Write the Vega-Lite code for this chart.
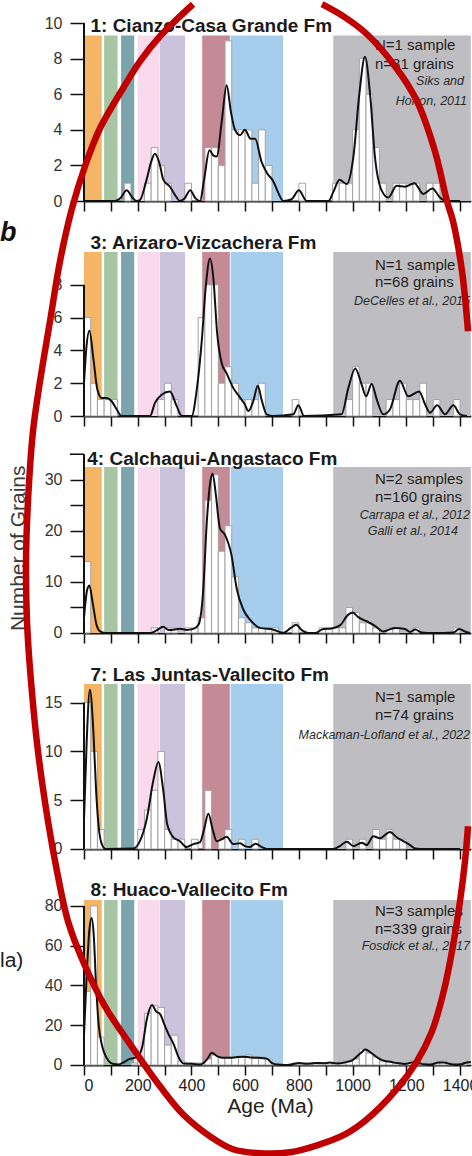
{
  "$schema": "https://vega.github.io/schema/vega-lite/v6.json",
  "usermeta": {"embedOptions": {"actions": false}},
  "autosize": {"type": "pad"},
  "padding": {"left": 0, "top": 0, "right": 0, "bottom": 0},
  "background": "white",
  "bounds": "flush",
  "spacing": 51,
  "resolve": {"scale": {"x": "independent", "y": "independent", "color": "independent"}},
  "config": {
    "font": "Liberation Sans",
    "view": {"stroke": null},
    "axis": {"grid": false, "tickCount": 30, "labelOverlap": false, "tickColor": "#111", "domainColor": "#111", "labelColor": "#333", "labelFont": "Liberation Sans", "labelFontSize": 16, "titleFont": "Liberation Sans"},
    "axisX": {"tickSize": 10, "tickWidth": 1.5, "domainWidth": 1.8},
    "axisY": {"tickSize": 14, "tickWidth": 1.5, "domain": false, "labelPadding": 8}
  },
  "datasets": {
    "bands": [
      {"band": "0-66 Ma", "start": 0, "end": 66},
      {"band": "75-125 Ma", "start": 75, "end": 125},
      {"band": "138-187 Ma", "start": 138, "end": 187},
      {"band": "200-280 Ma", "start": 200, "end": 280},
      {"band": "282-376 Ma", "start": 282, "end": 376},
      {"band": "440-543 Ma", "start": 440, "end": 543},
      {"band": "546-741 Ma", "start": 546, "end": 741},
      {"band": ">928 Ma", "start": 928, "end": 1440}
    ],
    "bars1": [
      {"start":150,"end":175,"count":1},{"start":225,"end":250,"count":1},{"start":250,"end":275,"count":3},{"start":275,"end":300,"count":2},{"start":300,"end":325,"count":1},{"start":375,"end":400,"count":1},{"start":450,"end":475,"count":3},{"start":475,"end":500,"count":3},{"start":500,"end":525,"count":2},{"start":525,"end":550,"count":9},{"start":550,"end":575,"count":4},{"start":575,"end":600,"count":4},{"start":600,"end":625,"count":4},{"start":625,"end":650,"count":1},{"start":650,"end":675,"count":4},{"start":675,"end":700,"count":2},{"start":800,"end":825,"count":1},{"start":925,"end":950,"count":1},{"start":950,"end":975,"count":1},{"start":975,"end":1000,"count":1},{"start":1000,"end":1025,"count":4},{"start":1025,"end":1050,"count":8},{"start":1050,"end":1075,"count":6},{"start":1075,"end":1100,"count":3},{"start":1100,"end":1125,"count":1},{"start":1150,"end":1175,"count":1},{"start":1175,"end":1200,"count":1},{"start":1200,"end":1225,"count":1},{"start":1225,"end":1250,"count":1},{"start":1275,"end":1300,"count":1},{"start":1300,"end":1325,"count":1}
    ],
    "kde1": [
      {"age":0,"density":0},{"age":115,"density":0},{"age":135,"density":0.15},{"age":159,"density":0.6},{"age":180,"density":0.2},{"age":196,"density":0},{"age":208,"density":0.05},{"age":233,"density":1.2},{"age":250,"density":2.2},{"age":264,"density":2.65},{"age":283,"density":2.0},{"age":295,"density":1.2},{"age":320,"density":0.8},{"age":345,"density":0.2},{"age":357,"density":0},{"age":375,"density":0.15},{"age":395,"density":0.6},{"age":415,"density":0.15},{"age":432,"density":0},{"age":447,"density":1.2},{"age":467,"density":2.85},{"age":482,"density":2.55},{"age":494,"density":2.5},{"age":513,"density":4.5},{"age":531,"density":6.5},{"age":547,"density":5.0},{"age":562,"density":4.0},{"age":581,"density":3.7},{"age":599,"density":4.0},{"age":620,"density":3.5},{"age":637,"density":3.5},{"age":661,"density":2.2},{"age":680,"density":1.6},{"age":705,"density":1.1},{"age":725,"density":0.4},{"age":742,"density":0},{"age":773,"density":0.1},{"age":800,"density":0.6},{"age":829,"density":0},{"age":910,"density":0},{"age":928,"density":0.5},{"age":951,"density":1.2},{"age":978,"density":0.95},{"age":1003,"density":2.5},{"age":1025,"density":6},{"age":1046,"density":8.1},{"age":1065,"density":6},{"age":1083,"density":2.5},{"age":1108,"density":0.6},{"age":1133,"density":0.2},{"age":1164,"density":0.85},{"age":1195,"density":0.8},{"age":1230,"density":1.0},{"age":1263,"density":0.4},{"age":1297,"density":0.7},{"age":1325,"density":0.2},{"age":1350,"density":0},{"age":1400,"density":0}
    ],
    "bars3": [
      {"start":0,"end":25,"count":6},{"start":25,"end":50,"count":2},{"start":50,"end":75,"count":1},{"start":75,"end":100,"count":1},{"start":100,"end":125,"count":1},{"start":275,"end":300,"count":1},{"start":300,"end":325,"count":2},{"start":325,"end":350,"count":1},{"start":425,"end":450,"count":6},{"start":450,"end":475,"count":8},{"start":475,"end":500,"count":8},{"start":500,"end":525,"count":2},{"start":525,"end":550,"count":3},{"start":550,"end":575,"count":2},{"start":575,"end":600,"count":1},{"start":600,"end":625,"count":1},{"start":625,"end":650,"count":1},{"start":650,"end":675,"count":2},{"start":775,"end":800,"count":1},{"start":975,"end":1000,"count":1},{"start":1000,"end":1025,"count":3},{"start":1025,"end":1050,"count":2},{"start":1050,"end":1075,"count":2},{"start":1125,"end":1150,"count":1},{"start":1150,"end":1175,"count":1},{"start":1175,"end":1200,"count":2},{"start":1200,"end":1225,"count":1},{"start":1225,"end":1250,"count":1},{"start":1250,"end":1275,"count":2},{"start":1300,"end":1325,"count":1},{"start":1375,"end":1400,"count":1}
    ],
    "kde3": [
      {"age":0,"density":2.0},{"age":8,"density":4.0},{"age":20,"density":5.2},{"age":35,"density":3.5},{"age":50,"density":1.6},{"age":66,"density":1.1},{"age":84,"density":1.1},{"age":103,"density":0.9},{"age":122,"density":0.4},{"age":140,"density":0},{"age":246,"density":0},{"age":264,"density":0.8},{"age":289,"density":1.3},{"age":320,"density":1.5},{"age":345,"density":0.6},{"age":364,"density":0},{"age":401,"density":0},{"age":419,"density":1.5},{"age":438,"density":4.5},{"age":454,"density":8},{"age":469,"density":9.6},{"age":481,"density":8.5},{"age":496,"density":5},{"age":513,"density":3.2},{"age":531,"density":2.6},{"age":556,"density":1.7},{"age":578,"density":1.2},{"age":599,"density":0.7},{"age":612,"density":0.3},{"age":630,"density":0.9},{"age":647,"density":1.85},{"age":661,"density":1.0},{"age":680,"density":0.1},{"age":705,"density":0},{"age":779,"density":0.1},{"age":798,"density":0.65},{"age":819,"density":0},{"age":959,"density":0.1},{"age":984,"density":1.7},{"age":1010,"density":2.9},{"age":1034,"density":1.9},{"age":1050,"density":1.2},{"age":1071,"density":1.95},{"age":1090,"density":1.0},{"age":1114,"density":0.1},{"age":1139,"density":0.4},{"age":1176,"density":2.15},{"age":1207,"density":1.2},{"age":1248,"density":1.5},{"age":1270,"density":0.7},{"age":1288,"density":0.2},{"age":1315,"density":0.65},{"age":1344,"density":0.1},{"age":1375,"density":0.65},{"age":1400,"density":0.1},{"age":1425,"density":0}
    ],
    "bars4": [
      {"start":0,"end":25,"count":14},{"start":250,"end":275,"count":1},{"start":300,"end":325,"count":1},{"start":325,"end":350,"count":1},{"start":375,"end":400,"count":1},{"start":400,"end":425,"count":1},{"start":425,"end":450,"count":3},{"start":450,"end":475,"count":26},{"start":475,"end":500,"count":31},{"start":500,"end":525,"count":16},{"start":525,"end":550,"count":21},{"start":550,"end":575,"count":11},{"start":575,"end":600,"count":3},{"start":600,"end":625,"count":2},{"start":625,"end":650,"count":1},{"start":650,"end":675,"count":1},{"start":675,"end":700,"count":1},{"start":700,"end":725,"count":1},{"start":775,"end":800,"count":2},{"start":875,"end":900,"count":1},{"start":900,"end":925,"count":1},{"start":925,"end":950,"count":1},{"start":950,"end":975,"count":1},{"start":975,"end":1000,"count":5},{"start":1000,"end":1025,"count":4},{"start":1025,"end":1050,"count":2},{"start":1050,"end":1075,"count":2},{"start":1075,"end":1100,"count":1},{"start":1125,"end":1150,"count":1},{"start":1150,"end":1175,"count":1},{"start":1225,"end":1250,"count":1},{"start":1375,"end":1400,"count":1}
    ],
    "kde4": [
      {"age":0,"density":3},{"age":12,"density":8.5},{"age":20,"density":9.3},{"age":32,"density":6},{"age":47,"density":1.5},{"age":60,"density":0.3},{"age":78,"density":0},{"age":250,"density":0},{"age":270,"density":0.5},{"age":295,"density":1.2},{"age":315,"density":0.6},{"age":333,"density":0.65},{"age":357,"density":0.85},{"age":382,"density":0.6},{"age":407,"density":0.8},{"age":426,"density":1.6},{"age":444,"density":8.5},{"age":457,"density":21.6},{"age":470,"density":29.5},{"age":479,"density":31.2},{"age":491,"density":27},{"age":506,"density":20.5},{"age":525,"density":19.2},{"age":550,"density":15},{"age":568,"density":8.8},{"age":593,"density":4.6},{"age":618,"density":2.6},{"age":655,"density":1.0},{"age":705,"density":0.65},{"age":742,"density":0.05},{"age":770,"density":1.0},{"age":790,"density":1.6},{"age":812,"density":0.5},{"age":835,"density":0},{"age":860,"density":0},{"age":891,"density":0.8},{"age":922,"density":0.9},{"age":953,"density":1.5},{"age":984,"density":3.6},{"age":1000,"density":4.0},{"age":1021,"density":3.1},{"age":1052,"density":2.3},{"age":1083,"density":1.4},{"age":1114,"density":0.3},{"age":1157,"density":1.0},{"age":1195,"density":0.8},{"age":1214,"density":0.2},{"age":1233,"density":0.7},{"age":1257,"density":0.1},{"age":1300,"density":0},{"age":1375,"density":0.1},{"age":1397,"density":0.8},{"age":1418,"density":0.3},{"age":1437,"density":0}
    ],
    "bars7": [
      {"start":0,"end":25,"count":15},{"start":25,"end":50,"count":10},{"start":50,"end":75,"count":2},{"start":200,"end":225,"count":2},{"start":225,"end":250,"count":4},{"start":250,"end":275,"count":6},{"start":275,"end":300,"count":10},{"start":300,"end":325,"count":2},{"start":325,"end":350,"count":1},{"start":350,"end":375,"count":1},{"start":400,"end":425,"count":1},{"start":450,"end":475,"count":6},{"start":500,"end":525,"count":1},{"start":525,"end":550,"count":2},{"start":575,"end":600,"count":1},{"start":625,"end":650,"count":1},{"start":975,"end":1000,"count":1},{"start":1025,"end":1050,"count":1},{"start":1075,"end":1100,"count":2},{"start":1100,"end":1125,"count":1},{"start":1125,"end":1150,"count":2},{"start":1150,"end":1175,"count":1},{"start":1175,"end":1200,"count":1}
    ],
    "kde7": [
      {"age":0,"density":3},{"age":10,"density":11},{"age":22,"density":16.3},{"age":35,"density":12},{"age":45,"density":6},{"age":55,"density":2.2},{"age":65,"density":0.6},{"age":80,"density":0},{"age":184,"density":0.05},{"age":208,"density":0.8},{"age":233,"density":3},{"age":258,"density":7},{"age":277,"density":8.9},{"age":295,"density":6},{"age":310,"density":2.5},{"age":333,"density":1.2},{"age":357,"density":0.8},{"age":382,"density":0.2},{"age":407,"density":0.5},{"age":432,"density":0.7},{"age":447,"density":2.0},{"age":463,"density":3.6},{"age":479,"density":2.0},{"age":494,"density":0.8},{"age":513,"density":1.0},{"age":531,"density":1.25},{"age":556,"density":0.5},{"age":581,"density":0.6},{"age":599,"density":0.3},{"age":618,"density":0.2},{"age":639,"density":0.55},{"age":662,"density":0.2},{"age":680,"density":0},{"age":928,"density":0},{"age":953,"density":0.3},{"age":978,"density":0.75},{"age":1003,"density":0.3},{"age":1034,"density":0.65},{"age":1052,"density":0.4},{"age":1077,"density":1.3},{"age":1102,"density":1.1},{"age":1139,"density":1.75},{"age":1164,"density":1.2},{"age":1189,"density":0.8},{"age":1214,"density":0.4},{"age":1233,"density":0.05},{"age":1251,"density":0},{"age":1400,"density":0}
    ],
    "bars8": [
      {"start":0,"end":25,"count":37},{"start":25,"end":50,"count":80},{"start":50,"end":75,"count":14},{"start":175,"end":200,"count":1},{"start":200,"end":225,"count":2},{"start":225,"end":250,"count":26},{"start":250,"end":275,"count":30},{"start":275,"end":300,"count":29},{"start":300,"end":325,"count":10},{"start":325,"end":350,"count":15},{"start":350,"end":375,"count":2},{"start":375,"end":400,"count":1},{"start":400,"end":425,"count":1},{"start":425,"end":450,"count":1},{"start":450,"end":475,"count":3},{"start":475,"end":500,"count":5},{"start":500,"end":525,"count":4},{"start":525,"end":550,"count":4},{"start":550,"end":575,"count":4},{"start":575,"end":600,"count":4},{"start":600,"end":625,"count":5},{"start":625,"end":650,"count":4},{"start":650,"end":675,"count":4},{"start":675,"end":700,"count":3},{"start":700,"end":725,"count":1},{"start":775,"end":800,"count":1},{"start":800,"end":825,"count":1},{"start":825,"end":850,"count":1},{"start":850,"end":875,"count":1},{"start":875,"end":900,"count":1},{"start":900,"end":925,"count":1},{"start":925,"end":950,"count":1},{"start":950,"end":975,"count":2},{"start":975,"end":1000,"count":2},{"start":1000,"end":1025,"count":3},{"start":1025,"end":1050,"count":8},{"start":1050,"end":1075,"count":6},{"start":1075,"end":1100,"count":4},{"start":1100,"end":1125,"count":2},{"start":1125,"end":1150,"count":2},{"start":1150,"end":1175,"count":1},{"start":1175,"end":1200,"count":1},{"start":1200,"end":1225,"count":2},{"start":1225,"end":1250,"count":1},{"start":1250,"end":1275,"count":1},{"start":1300,"end":1325,"count":1},{"start":1325,"end":1350,"count":2},{"start":1350,"end":1375,"count":1},{"start":1400,"end":1425,"count":1}
    ],
    "kde8": [
      {"age":0,"density":15},{"age":10,"density":45},{"age":20,"density":68},{"age":28,"density":74},{"age":36,"density":66},{"age":45,"density":40},{"age":55,"density":20},{"age":65,"density":11},{"age":73,"density":7},{"age":92,"density":2},{"age":110,"density":0.5},{"age":129,"density":0.3},{"age":150,"density":1.5},{"age":166,"density":2.8},{"age":191,"density":3.7},{"age":205,"density":5},{"age":216,"density":8.7},{"age":235,"density":23.8},{"age":253,"density":30.2},{"age":268,"density":27},{"age":284,"density":25.5},{"age":300,"density":20},{"age":315,"density":15.4},{"age":334,"density":10.4},{"age":353,"density":3.7},{"age":371,"density":0.7},{"age":402,"density":0.6},{"age":433,"density":0.2},{"age":458,"density":2.8},{"age":476,"density":6.2},{"age":495,"density":4.5},{"age":514,"density":3.7},{"age":539,"density":3.7},{"age":560,"density":3.8},{"age":590,"density":4.2},{"age":620,"density":3.8},{"age":650,"density":3.6},{"age":680,"density":3.2},{"age":700,"density":1.0},{"age":720,"density":0.2},{"age":750,"density":0},{"age":775,"density":0.4},{"age":800,"density":1.0},{"age":830,"density":0.6},{"age":860,"density":1.0},{"age":890,"density":0.9},{"age":915,"density":1.2},{"age":940,"density":0.8},{"age":970,"density":1.3},{"age":1000,"density":2.5},{"age":1030,"density":6.0},{"age":1048,"density":7.8},{"age":1070,"density":6.0},{"age":1095,"density":3.5},{"age":1120,"density":2.0},{"age":1140,"density":1.6},{"age":1165,"density":1.0},{"age":1195,"density":0.5},{"age":1220,"density":1.2},{"age":1245,"density":1.0},{"age":1265,"density":0.4},{"age":1290,"density":0.3},{"age":1320,"density":1.2},{"age":1340,"density":1.3},{"age":1360,"density":0.6},{"age":1380,"density":0.2},{"age":1405,"density":0.4},{"age":1425,"density":1.3},{"age":1440,"density":1.5}
    ],
    "ellipse": [
      {"seg":"a","k":1,"age":405.8,"value":533.6},{"seg":"a","k":2,"age":282.9,"value":517.5},{"seg":"a","k":3,"age":208.5,"value":504.9},{"seg":"a","k":4,"age":134.0,"value":488.8},{"seg":"a","k":5,"age":59.6,"value":471.2},{"seg":"a","k":6,"age":3.7,"value":452.1},{"seg":"a","k":7,"age":-44.7,"value":430.9},{"seg":"a","k":8,"age":-89.4,"value":404.3},{"seg":"a","k":9,"age":-126.6,"value":374.1},{"seg":"a","k":10,"age":-163.8,"value":343.9},{"seg":"a","k":11,"age":-189.9,"value":318.8},{"seg":"a","k":12,"age":-208.5,"value":283.6},{"seg":"a","k":13,"age":-215.9,"value":253.4},{"seg":"a","k":14,"age":-212.2,"value":223.2},{"seg":"a","k":15,"age":-197.3,"value":193.0},{"seg":"a","k":16,"age":-171.3,"value":157.8},{"seg":"a","k":17,"age":-134.0,"value":122.6},{"seg":"a","k":18,"age":-100.5,"value":97.4},{"seg":"a","k":19,"age":-59.6,"value":72.3},{"seg":"a","k":20,"age":-3.7,"value":52.2},{"seg":"a","k":21,"age":78.2,"value":29.5},{"seg":"a","k":22,"age":182.4,"value":8.4},{"seg":"a","k":23,"age":282.9,"value":-10.7},{"seg":"a","k":24,"age":368.6,"value":-24.8},{"seg":"a","k":25,"age":469.1,"value":-35.9},{"seg":"a","k":26,"age":554.7,"value":-42.4},{"seg":"a","k":27,"age":655.2,"value":-44.4},{"seg":"a","k":28,"age":766.9,"value":-43.9},{"seg":"a","k":29,"age":867.4,"value":-40.4},{"seg":"a","k":30,"age":971.7,"value":-34.9},{"seg":"a","k":31,"age":1053.6,"value":-27.3},{"seg":"a","k":32,"age":1157.8,"value":-13.2},{"seg":"a","k":33,"age":1239.7,"value":1.9},{"seg":"a","k":34,"age":1295.6,"value":17.0},{"seg":"a","k":35,"age":1336.5,"value":35.6},{"seg":"a","k":36,"age":1370.0,"value":57.2},{"seg":"a","k":37,"age":1399.8,"value":82.3},{"seg":"a","k":38,"age":1418.4,"value":102.5},{"seg":"a","k":39,"age":1429.6,"value":120.1},
      {"seg":"b","k":1,"age":1429.6,"value":369.1},{"seg":"b","k":2,"age":1407.3,"value":399.3},{"seg":"b","k":3,"age":1373.8,"value":424.4},{"seg":"b","k":4,"age":1351.4,"value":434.5},{"seg":"b","k":5,"age":1306.7,"value":459.6},{"seg":"b","k":6,"age":1239.7,"value":484.8},{"seg":"b","k":7,"age":1157.8,"value":502.4},{"seg":"b","k":8,"age":1053.6,"value":518.5},{"seg":"b","k":9,"age":971.7,"value":527.0},{"seg":"b","k":10,"age":886.1,"value":533.6}
    ]
  },
  "vconcat": [
    {
      "width": 386.8, "height": 178,
      "layer": [
        {"data": {"name": "bands"}, "mark": {"type": "rect"},
         "encoding": {
           "x": {"field": "start", "type": "quantitative", "scale": {"domain": [0, 1440], "nice": false, "zero": false}, "axis": {"values": [0,100,200,300,400,500,600,700,800,900,1000,1100,1200,1300,1400], "tickCount": 30, "labels": false, "title": null}},
           "x2": {"field": "end"},
           "y": {"datum": 9.3, "type": "quantitative", "scale": {"domain": [0, 10], "nice": false, "zero": false}, "axis": {"values": [0,2,4,6,8,10], "tickCount": 30, "format": "d", "title": null}},
           "y2": {"datum": 0},
           "color": {"field": "band", "type": "nominal", "scale": {"domain": ["0-66 Ma","75-125 Ma","138-187 Ma","200-280 Ma","282-376 Ma","440-543 Ma","546-741 Ma",">928 Ma"], "range": ["#F4B566","#A8C5A3","#7BA4AC","#F9DAEC","#CBC3DD","#C48A96","#A6CEEC","#BEBEC2"]}, "legend": null}
         }},
        {"data": {"name": "bars1"}, "mark": {"type": "rect", "fill": "white", "stroke": "#a3a3a3", "strokeWidth": 1},
         "encoding": {"x": {"field": "start", "type": "quantitative"}, "x2": {"field": "end"}, "y": {"field": "count", "type": "quantitative"}, "y2": {"datum": 0}}},
        {"data": {"name": "kde1"}, "mark": {"type": "line", "color": "#111", "strokeWidth": 2, "interpolate": "monotone"},
         "encoding": {"x": {"field": "age", "type": "quantitative"}, "y": {"field": "density", "type": "quantitative"}}},
        {"data": {"values": [{}]}, "mark": {"type": "rule", "color": "#111", "strokeWidth": 2},
         "encoding": {"x": {"datum": 0}, "y": {"datum": 0}, "y2": {"datum": 10}}},
        {"data": {"values": [{}]}, "mark": {"type": "text", "text": "1: Cianzo-Casa Grande Fm", "align": "left", "baseline": "middle", "fontSize": 19, "fontWeight": "bold", "color": "#1a1a1a"},
         "encoding": {"x": {"datum": 24.2}, "y": {"datum": 9.81}}},
        {"data": {"values": [{}]}, "mark": {"type": "text", "text": "N=1 sample", "align": "left", "baseline": "middle", "fontSize": 15, "color": "#1f1f1f"},
         "encoding": {"x": {"datum": 1083.4}, "y": {"datum": 8.79}}},
        {"data": {"values": [{}]}, "mark": {"type": "text", "text": "n=81 grains", "align": "left", "baseline": "middle", "fontSize": 15, "color": "#1f1f1f"},
         "encoding": {"x": {"datum": 1083.4}, "y": {"datum": 7.72}}},
        {"data": {"values": [{}]}, "mark": {"type": "text", "text": "Siks and", "align": "right", "baseline": "middle", "fontSize": 12.5, "fontStyle": "italic", "color": "#2a2a2a"},
         "encoding": {"x": {"datum": 1414.7}, "y": {"datum": 6.72}}},
        {"data": {"values": [{}]}, "mark": {"type": "text", "text": "Horton, 2011", "align": "right", "baseline": "middle", "fontSize": 12.5, "fontStyle": "italic", "color": "#2a2a2a"},
         "encoding": {"x": {"datum": 1425.9}, "y": {"datum": 5.6}}}
      ]
    },
    {
      "width": 386.8, "height": 164,
      "layer": [
        {"data": {"name": "bands"}, "mark": {"type": "rect"},
         "encoding": {
           "x": {"field": "start", "type": "quantitative", "scale": {"domain": [0, 1440], "nice": false, "zero": false}, "axis": {"values": [0,100,200,300,400,500,600,700,800,900,1000,1100,1200,1300,1400], "tickCount": 30, "labels": false, "title": null}},
           "x2": {"field": "end"},
           "y": {"datum": 10, "type": "quantitative", "scale": {"domain": [0, 10], "nice": false, "zero": false}, "axis": {"values": [0,2,4,6,8], "tickCount": 30, "format": "d", "title": null}},
           "y2": {"datum": 0},
           "color": {"field": "band", "type": "nominal", "scale": {"domain": ["0-66 Ma","75-125 Ma","138-187 Ma","200-280 Ma","282-376 Ma","440-543 Ma","546-741 Ma",">928 Ma"], "range": ["#F4B566","#A8C5A3","#7BA4AC","#F9DAEC","#CBC3DD","#C48A96","#A6CEEC","#BEBEC2"]}, "legend": null}
         }},
        {"data": {"name": "bars3"}, "mark": {"type": "rect", "fill": "white", "stroke": "#a3a3a3", "strokeWidth": 1},
         "encoding": {"x": {"field": "start", "type": "quantitative"}, "x2": {"field": "end"}, "y": {"field": "count", "type": "quantitative"}, "y2": {"datum": 0}}},
        {"data": {"name": "kde3"}, "mark": {"type": "line", "color": "#111", "strokeWidth": 2, "interpolate": "monotone"},
         "encoding": {"x": {"field": "age", "type": "quantitative"}, "y": {"field": "density", "type": "quantitative"}}},
        {"data": {"values": [{}]}, "mark": {"type": "rule", "color": "#111", "strokeWidth": 2},
         "encoding": {"x": {"datum": 0}, "y": {"datum": 0}, "y2": {"datum": 8}}},
        {"data": {"values": [{}]}, "mark": {"type": "text", "text": "3: Arizaro-Vizcachera Fm", "align": "left", "baseline": "middle", "fontSize": 19, "fontWeight": "bold", "color": "#1a1a1a"},
         "encoding": {"x": {"datum": 24.2}, "y": {"datum": 10.55}}},
        {"data": {"values": [{}]}, "mark": {"type": "text", "text": "b", "align": "left", "baseline": "alphabetic", "fontSize": 27, "fontWeight": "bold", "fontStyle": "italic", "color": "#111"},
         "encoding": {"x": {"datum": -312.7}, "y": {"datum": 10.65}}},
        {"data": {"values": [{}]}, "mark": {"type": "text", "text": "N=1 sample", "align": "left", "baseline": "middle", "fontSize": 15, "color": "#1f1f1f"},
         "encoding": {"x": {"datum": 1083.4}, "y": {"datum": 9.23}}},
        {"data": {"values": [{}]}, "mark": {"type": "text", "text": "n=68 grains", "align": "left", "baseline": "middle", "fontSize": 15, "color": "#1f1f1f"},
         "encoding": {"x": {"datum": 1083.4}, "y": {"datum": 8.17}}},
        {"data": {"values": [{}]}, "mark": {"type": "text", "text": "DeCelles et al., 2015", "align": "right", "baseline": "middle", "fontSize": 12.5, "fontStyle": "italic", "color": "#2a2a2a"},
         "encoding": {"x": {"datum": 1437}, "y": {"datum": 7.0}}}
      ]
    },
    {
      "width": 386.8, "height": 166,
      "layer": [
        {"data": {"name": "bands"}, "mark": {"type": "rect"},
         "encoding": {
           "x": {"field": "start", "type": "quantitative", "scale": {"domain": [0, 1440], "nice": false, "zero": false}, "axis": {"values": [0,100,200,300,400,500,600,700,800,900,1000,1100,1200,1300,1400], "tickCount": 30, "labels": false, "title": null}},
           "x2": {"field": "end"},
           "y": {"datum": 32.5, "type": "quantitative", "scale": {"domain": [0, 32.5], "nice": false, "zero": false}, "axis": {"values": [0,5,10,15,20,25,30], "tickCount": 30, "format": "d", "labelExpr": "datum.value % 10 === 0 ? datum.label : ''", "title": null}},
           "y2": {"datum": 0},
           "color": {"field": "band", "type": "nominal", "scale": {"domain": ["0-66 Ma","75-125 Ma","138-187 Ma","200-280 Ma","282-376 Ma","440-543 Ma","546-741 Ma",">928 Ma"], "range": ["#F4B566","#A8C5A3","#7BA4AC","#F9DAEC","#CBC3DD","#C48A96","#A6CEEC","#BEBEC2"]}, "legend": null}
         }},
        {"data": {"name": "bars4"}, "mark": {"type": "rect", "fill": "white", "stroke": "#a3a3a3", "strokeWidth": 1},
         "encoding": {"x": {"field": "start", "type": "quantitative"}, "x2": {"field": "end"}, "y": {"field": "count", "type": "quantitative"}, "y2": {"datum": 0}}},
        {"data": {"name": "kde4"}, "mark": {"type": "line", "color": "#111", "strokeWidth": 2, "interpolate": "monotone"},
         "encoding": {"x": {"field": "age", "type": "quantitative"}, "y": {"field": "density", "type": "quantitative"}}},
        {"data": {"values": [{}]}, "mark": {"type": "rule", "color": "#111", "strokeWidth": 2},
         "encoding": {"x": {"datum": 0}, "y": {"datum": 0}, "y2": {"datum": 35}}},
        {"data": {"values": [{}]}, "mark": {"type": "rule", "color": "#111", "strokeWidth": 1.5},
         "encoding": {"x": {"datum": -52.1}, "x2": {"datum": 0}, "y": {"datum": 35}}},
        {"data": {"values": [{}]}, "mark": {"type": "text", "text": "4: Calchaqui-Angastaco Fm", "align": "left", "baseline": "middle", "fontSize": 19, "fontWeight": "bold", "color": "#1a1a1a"},
         "encoding": {"x": {"datum": 12.3}, "y": {"datum": 34.0}}},
        {"data": {"values": [{}]}, "mark": {"type": "text", "text": "Number of Grains", "align": "center", "baseline": "middle", "angle": 270, "fontSize": 21, "color": "#3a3a3a"},
         "encoding": {"x": {"datum": -243.8}, "y": {"datum": 16.58}}},
        {"data": {"values": [{}]}, "mark": {"type": "text", "text": "N=2 samples", "align": "left", "baseline": "middle", "fontSize": 15, "color": "#1f1f1f"},
         "encoding": {"x": {"datum": 1083.4}, "y": {"datum": 30.23}}},
        {"data": {"values": [{}]}, "mark": {"type": "text", "text": "n=160 grains", "align": "left", "baseline": "middle", "fontSize": 15, "color": "#1f1f1f"},
         "encoding": {"x": {"datum": 1083.4}, "y": {"datum": 26.63}}},
        {"data": {"values": [{}]}, "mark": {"type": "text", "text": "Carrapa et al., 2012", "align": "right", "baseline": "middle", "fontSize": 12.5, "fontStyle": "italic", "color": "#2a2a2a"},
         "encoding": {"x": {"datum": 1437}, "y": {"datum": 23.18}}},
        {"data": {"values": [{}]}, "mark": {"type": "text", "text": "Galli et al., 2014", "align": "right", "baseline": "middle", "fontSize": 12.5, "fontStyle": "italic", "color": "#2a2a2a"},
         "encoding": {"x": {"datum": 1392}, "y": {"datum": 19.91}}}
      ]
    },
    {
      "width": 386.8, "height": 165,
      "layer": [
        {"data": {"name": "bands"}, "mark": {"type": "rect"},
         "encoding": {
           "x": {"field": "start", "type": "quantitative", "scale": {"domain": [0, 1440], "nice": false, "zero": false}, "axis": {"values": [0,100,200,300,400,500,600,700,800,900,1000,1100,1200,1300,1400], "tickCount": 30, "labels": false, "title": null}},
           "x2": {"field": "end"},
           "y": {"datum": 16.9, "type": "quantitative", "scale": {"domain": [0, 16.9], "nice": false, "zero": false}, "axis": {"values": [0,5,10,15], "tickCount": 30, "format": "d", "title": null}},
           "y2": {"datum": 0},
           "color": {"field": "band", "type": "nominal", "scale": {"domain": ["0-66 Ma","75-125 Ma","138-187 Ma","200-280 Ma","282-376 Ma","440-543 Ma","546-741 Ma",">928 Ma"], "range": ["#F4B566","#A8C5A3","#7BA4AC","#F9DAEC","#CBC3DD","#C48A96","#A6CEEC","#BEBEC2"]}, "legend": null}
         }},
        {"data": {"name": "bars7"}, "mark": {"type": "rect", "fill": "white", "stroke": "#a3a3a3", "strokeWidth": 1},
         "encoding": {"x": {"field": "start", "type": "quantitative"}, "x2": {"field": "end"}, "y": {"field": "count", "type": "quantitative"}, "y2": {"datum": 0}}},
        {"data": {"name": "kde7"}, "mark": {"type": "line", "color": "#111", "strokeWidth": 2, "interpolate": "monotone"},
         "encoding": {"x": {"field": "age", "type": "quantitative"}, "y": {"field": "density", "type": "quantitative"}}},
        {"data": {"values": [{}]}, "mark": {"type": "rule", "color": "#111", "strokeWidth": 2},
         "encoding": {"x": {"datum": 0}, "y": {"datum": 0}, "y2": {"datum": 15}}},
        {"data": {"values": [{}]}, "mark": {"type": "text", "text": "7: Las Juntas-Vallecito Fm", "align": "left", "baseline": "middle", "fontSize": 19, "fontWeight": "bold", "color": "#1a1a1a"},
         "encoding": {"x": {"datum": 24.2}, "y": {"datum": 17.79}}},
        {"data": {"values": [{}]}, "mark": {"type": "text", "text": "N=1 sample", "align": "left", "baseline": "middle", "fontSize": 15, "color": "#1f1f1f"},
         "encoding": {"x": {"datum": 1083.4}, "y": {"datum": 15.57}}},
        {"data": {"values": [{}]}, "mark": {"type": "text", "text": "n=74 grains", "align": "left", "baseline": "middle", "fontSize": 15, "color": "#1f1f1f"},
         "encoding": {"x": {"datum": 1083.4}, "y": {"datum": 13.69}}},
        {"data": {"values": [{}]}, "mark": {"type": "text", "text": "Mackaman-Lofland et al., 2022", "align": "right", "baseline": "middle", "fontSize": 12.5, "fontStyle": "italic", "color": "#2a2a2a"},
         "encoding": {"x": {"datum": 1437}, "y": {"datum": 11.72}}}
      ]
    },
    {
      "width": 386.8, "height": 165,
      "layer": [
        {"data": {"name": "bands"}, "mark": {"type": "rect"},
         "encoding": {
           "x": {"field": "start", "type": "quantitative", "scale": {"domain": [0, 1440], "nice": false, "zero": false}, "axis": {"values": [0,100,200,300,400,500,600,700,800,900,1000,1100,1200,1300,1400], "tickCount": 30, "format": "d", "labelExpr": "datum.value % 200 === 0 ? datum.label : ''", "labelPadding": 3, "labelColor": "#222", "title": "Age (Ma)", "titleFontSize": 21, "titleFontWeight": "normal", "titleColor": "#222", "titlePadding": 2, "titleX": 186}},
           "x2": {"field": "end"},
           "y": {"datum": 83, "type": "quantitative", "scale": {"domain": [0, 83], "nice": false, "zero": false}, "axis": {"values": [0,20,40,60,80], "tickCount": 30, "format": "d", "title": null}},
           "y2": {"datum": 0},
           "color": {"field": "band", "type": "nominal", "scale": {"domain": ["0-66 Ma","75-125 Ma","138-187 Ma","200-280 Ma","282-376 Ma","440-543 Ma","546-741 Ma",">928 Ma"], "range": ["#F4B566","#A8C5A3","#7BA4AC","#F9DAEC","#CBC3DD","#C48A96","#A6CEEC","#BEBEC2"]}, "legend": null}
         }},
        {"data": {"name": "bars8"}, "mark": {"type": "rect", "fill": "white", "stroke": "#a3a3a3", "strokeWidth": 1},
         "encoding": {"x": {"field": "start", "type": "quantitative"}, "x2": {"field": "end"}, "y": {"field": "count", "type": "quantitative"}, "y2": {"datum": 0}}},
        {"data": {"name": "kde8"}, "mark": {"type": "line", "color": "#111", "strokeWidth": 2, "interpolate": "monotone"},
         "encoding": {"x": {"field": "age", "type": "quantitative"}, "y": {"field": "density", "type": "quantitative"}}},
        {"data": {"values": [{}]}, "mark": {"type": "rule", "color": "#111", "strokeWidth": 2},
         "encoding": {"x": {"datum": 0}, "y": {"datum": 0}, "y2": {"datum": 80}}},
        {"data": {"values": [{}]}, "mark": {"type": "text", "text": "8: Huaco-Vallecito Fm", "align": "left", "baseline": "middle", "fontSize": 19, "fontWeight": "bold", "color": "#1a1a1a"},
         "encoding": {"x": {"datum": 24.2}, "y": {"datum": 87.9}}},
        {"data": {"values": [{}]}, "mark": {"type": "text", "text": "N=3 samples", "align": "left", "baseline": "middle", "fontSize": 15, "color": "#1f1f1f"},
         "encoding": {"x": {"datum": 1083.4}, "y": {"datum": 77.67}}},
        {"data": {"values": [{}]}, "mark": {"type": "text", "text": "n=339 grains", "align": "left", "baseline": "middle", "fontSize": 15, "color": "#1f1f1f"},
         "encoding": {"x": {"datum": 1083.4}, "y": {"datum": 68.41}}},
        {"data": {"values": [{}]}, "mark": {"type": "text", "text": "Fosdick et al., 2017", "align": "right", "baseline": "middle", "fontSize": 12.5, "fontStyle": "italic", "color": "#2a2a2a"},
         "encoding": {"x": {"datum": 1437}, "y": {"datum": 60.06}}},
        {"data": {"values": [{}]}, "mark": {"type": "text", "text": "la)", "align": "left", "baseline": "alphabetic", "fontSize": 21, "color": "#222"},
         "encoding": {"x": {"datum": -312.7}, "y": {"datum": 49.15}}},
        {"data": {"name": "ellipse"}, "mark": {"type": "line", "color": "#C00000", "strokeWidth": 6.5, "strokeJoin": "round", "strokeCap": "butt", "interpolate": "catmull-rom"},
         "encoding": {"x": {"field": "age", "type": "quantitative"}, "y": {"field": "value", "type": "quantitative"}, "detail": {"field": "seg", "type": "nominal"}, "order": {"field": "k", "type": "quantitative"}}}
      ]
    }
  ]
}
